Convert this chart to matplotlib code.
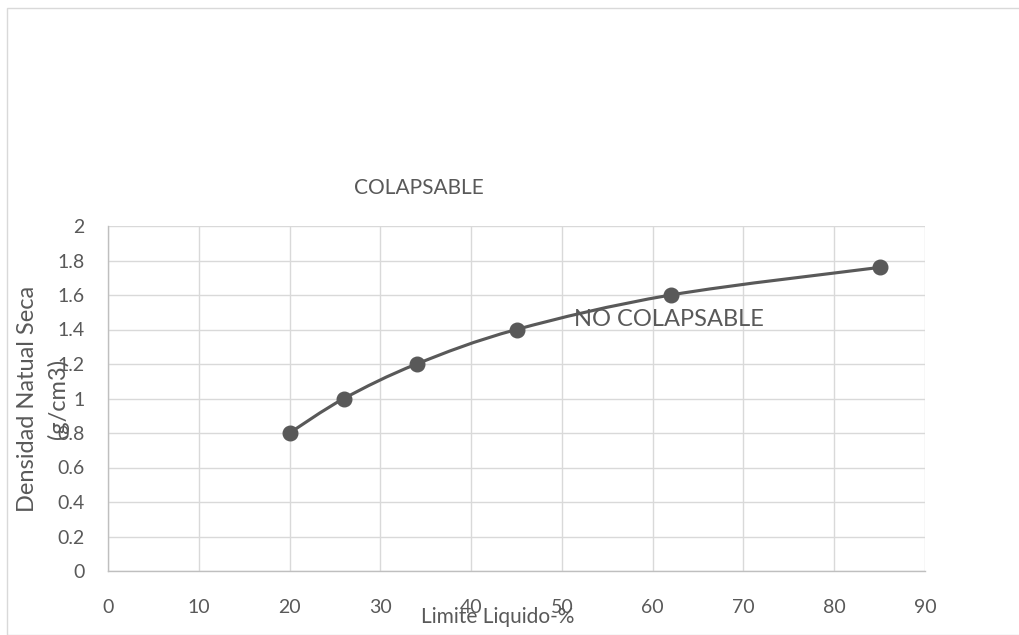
import matplotlib
matplotlib.use("Agg")
import matplotlib.pyplot as plt
import numpy as np
from matplotlib.path import Path
from matplotlib.patches import PathPatch, Rectangle

plt.rcParams['font.family'] = ['Lato', 'DejaVu Sans']

limite_liquido = [20, 26, 34, 45, 62, 85]
densidad = [0.8, 1.0, 1.2, 1.4, 1.6, 1.76]
x_ticks = [0, 10, 20, 30, 40, 50, 60, 70, 80, 90]
y_ticks = [0, 0.2, 0.4, 0.6, 0.8, 1, 1.2, 1.4, 1.6, 1.8, 2]
y_tick_labels = ['0', '0.2', '0.4', '0.6', '0.8', '1', '1.2', '1.4', '1.6', '1.8', '2']

TXT = '#595959'
GRID = '#d9d9d9'
LINE = '#595959'

fig = plt.figure(figsize=(10.19, 6.35), dpi=100)
fig.patches.append(Rectangle((7/1019, 0), 1.2, (635-8)/635, transform=fig.transFigure,
                             fill=False, edgecolor='#d9d9d9', lw=1.0))
ax = fig.add_axes([108/1019, (635-571)/635, (925-108)/1019, (571-226)/635])
ax.set_xlim(0, 90)
ax.set_ylim(0, 2)
ax.set_xticks(x_ticks)
ax.set_yticks(y_ticks)
ax.set_yticklabels(y_tick_labels)
ax.grid(True, color=GRID, lw=1.0)
ax.set_axisbelow(True)
for s in ['top', 'right']:
    ax.spines[s].set_visible(False)
for s in ['left', 'bottom']:
    ax.spines[s].set_color('#bfbfbf')
    ax.spines[s].set_linewidth(1.0)
ax.tick_params(length=0, colors=TXT, labelsize=14)
ax.tick_params(axis='x', pad=20)
ax.tick_params(axis='y', pad=17)

# smooth curve (Catmull-Rom -> cubic Bezier in display space through the data points)
pts = ax.transData.transform(np.column_stack([limite_liquido, densidad]))
n = len(pts)
verts = [pts[0]]
codes = [Path.MOVETO]
t = 1/6
for i in range(n - 1):
    p0 = pts[i - 1] if i > 0 else pts[i]
    p1 = pts[i]
    p2 = pts[i + 1]
    p3 = pts[i + 2] if i + 2 < n else pts[i + 1]
    c1 = p1 + (p2 - p0) * t
    c2 = p2 - (p3 - p1) * t
    verts += [c1, c2, p2]
    codes += [Path.CURVE4] * 3
path = Path(ax.transData.inverted().transform(np.array(verts)), codes)
ax.add_patch(PathPatch(path, fill=False, edgecolor=LINE, lw=2.25, zorder=3))
ax.plot(limite_liquido, densidad, linestyle='none', marker='o', ms=10.5, color=LINE, zorder=4)

ax.text(34.3, 2.22, 'COLAPSABLE', color=TXT, fontsize=15, ha='center', va='center',
        clip_on=False)
ax.text(61.8, 1.46, 'NO COLAPSABLE', color=TXT, fontsize=17, ha='center', va='center')

fig.text(28/1019, 1 - 399/635, 'Densidad Natual Seca', rotation=90, color=TXT,
         fontsize=17, ha='center', va='center')
fig.text(58/1019, 1 - 399/635, '(g/cm3)', rotation=90, color=TXT,
         fontsize=17, ha='center', va='center')
fig.text(498/1019, 1 - 617/635, 'Limite Liquido-%', color=TXT, fontsize=15,
         ha='center', va='center')

fig.savefig('out.png', dpi=100)
